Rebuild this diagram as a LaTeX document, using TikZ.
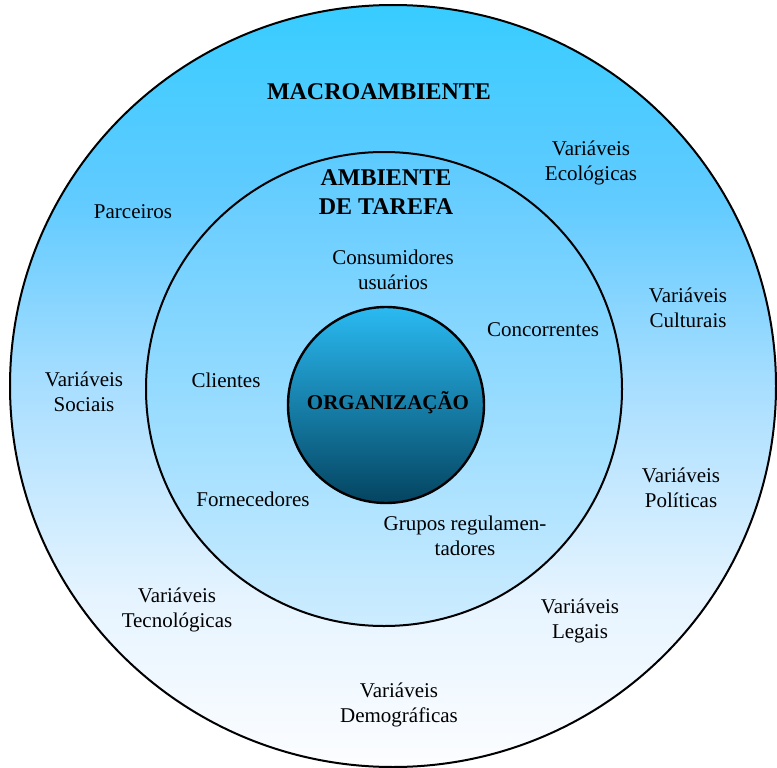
\documentclass[tikz,border=0pt]{standalone}
\usepackage{fontspec}
\setmainfont{Liberation Serif}
\definecolor{outA}{RGB}{252,253,255}
\definecolor{outB}{RGB}{230,244,255}
\definecolor{outC}{RGB}{168,222,255}
\definecolor{outD}{RGB}{98,203,255}
\definecolor{outE}{RGB}{56,204,255}
\definecolor{midTop}{RGB}{92,202,255}
\definecolor{midMid}{RGB}{157,216,255}
\definecolor{midBot}{RGB}{205,236,255}
\definecolor{orgTop}{RGB}{42,186,242}
\definecolor{orgMid}{RGB}{32,146,196}
\definecolor{orgBot}{RGB}{4,68,96}
% vertical blend for the outer disc (bounding box spans 25bp..75bp)
\pgfdeclareverticalshading{outerfade}{100bp}{%
  color(0bp)=(outA); color(25bp)=(outA); color(36bp)=(outB);
  color(50bp)=(outC); color(62bp)=(outD); color(75bp)=(outE);
  color(100bp)=(outE)}
\begin{document}
\begin{tikzpicture}[x=1pt,y=-1pt,
  ring/.style={draw=black, line width=2pt},
  lbl/.style={font=\fontsize{21}{24.5}\selectfont, align=center, inner sep=0pt},
  ttl/.style={font=\fontsize{24}{29}\selectfont\bfseries, align=center, inner sep=0pt}]
\useasboundingbox (0,0) rectangle (777,768);

% outer ring: macro-environment
\path[ring, shading=outerfade]
  (393,386) ellipse [x radius=383pt, y radius=381pt];
% middle ring: task environment
\path[ring, top color=midTop, middle color=midMid, bottom color=midBot]
  (384,389) ellipse [x radius=238pt, y radius=237pt];
% core: the organization
\path[ring, line width=2.4pt, top color=orgTop, middle color=orgMid, bottom color=orgBot]
  (386,405) circle [radius=98pt];

% titles
\node[ttl] (macro) at (379,92) {MACROAMBIENTE};
\node[ttl] (tarefa) at (386,192) {AMBIENTE\\DE TAREFA};
\node[ttl, font=\fontsize{21}{25}\selectfont\bfseries] (org) at (388,403) {ORGANIZAÇÃO};

% macro-environment variables
\node[lbl] (ecol) at (591,163) {Variáveis\\Ecológicas};
\node[lbl] (parc) at (133,212) {Parceiros};
\node[lbl] (cult) at (688,308) {Variáveis\\Culturais};
\node[lbl] (soc) at (84,392) {Variáveis\\Sociais};
\node[lbl] (pol) at (681,488) {Variáveis\\Políticas};
\node[lbl] (tec) at (177,610) {Variáveis\\Tecnológicas};
\node[lbl] (leg) at (580,621) {Variáveis\\Legais};
\node[lbl] (dem) at (399,705) {Variáveis\\Demográficas};

% task-environment actors
\node[lbl] (cons) at (393,270) {Consumidores\\usuários};
\node[lbl] (conc) at (543,330) {Concorrentes};
\node[lbl] (cli) at (226,380) {Clientes};
\node[lbl] (forn) at (253,499) {Fornecedores};
\node[lbl] (grup) at (465,536) {Grupos regulamen-\\tadores};
\end{tikzpicture}
\end{document}
